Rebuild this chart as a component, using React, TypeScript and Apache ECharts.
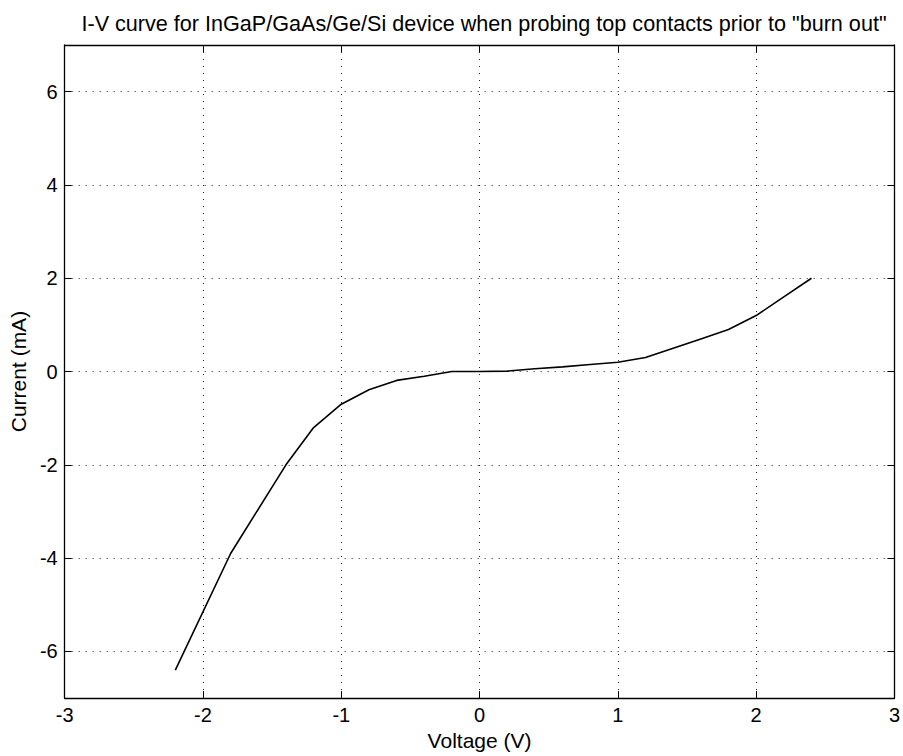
import React, { useEffect, useRef } from "react";
import * as echarts from "echarts";

const titleText = 'I-V curve for InGaP/GaAs/Ge/Si device when probing top contacts prior to "burn out"';
const xAxisName = "Voltage (V)";
const yAxisName = "Current (mA)";
const xTicks = [-3, -2, -1, 0, 1, 2, 3];
const yTicks = [-6, -4, -2, 0, 2, 4, 6];
const voltage = [-2.2, -1.8, -1.4, -1.2, -1.0, -0.8, -0.6, -0.4, -0.2, 0, 0.2, 0.4, 0.6, 0.8, 1.0, 1.2, 1.4, 1.6, 1.8, 2.0, 2.2, 2.4];
const current = [-6.4, -3.9, -2.0, -1.2, -0.7, -0.39, -0.19, -0.1, 0.0, 0.0, 0.01, 0.06, 0.1, 0.15, 0.2, 0.3, 0.5, 0.7, 0.9, 1.2, 1.6, 2.0];

const FONT = "'Liberation Sans', Arial, Helvetica, sans-serif";

export default function App() {
  const ref = useRef<HTMLDivElement>(null);
  useEffect(() => {
    if (!ref.current) return;
    const chart = echarts.init(ref.current, null, { renderer: "svg" });
    const split = { show: true, lineStyle: { color: "#222", width: 1, type: [1, 6] as any } };
    const line = { show: true, onZero: false, lineStyle: { color: "#000", width: 1.3 } };
    const xTick = { show: true, inside: true, length: 7, customValues: xTicks, lineStyle: { color: "#000", width: 1 } };
    const yTick = { show: true, inside: true, length: 7, customValues: yTicks, lineStyle: { color: "#000", width: 1 } };
    chart.setOption({
      animation: false,
      backgroundColor: "#fff",
      textStyle: { fontFamily: FONT },
      title: {
        text: titleText,
        left: 479,
        textAlign: "center",
        top: 7,
        textStyle: { fontFamily: FONT, fontSize: 21.6, fontWeight: "normal", color: "#000" },
      },
      grid: { left: 62, right: 7, top: 45, bottom: 56, containLabel: false },
      xAxis: [
        {
          type: "value", min: -3, max: 3, interval: 1, position: "bottom",
          name: xAxisName, nameLocation: "middle", nameGap: 29,
          nameTextStyle: { fontFamily: FONT, fontSize: 21, color: "#000" },
          axisLine: line, axisTick: xTick, splitLine: split,
          axisLabel: { fontFamily: FONT, fontSize: 20, color: "#000", margin: 7, customValues: xTicks },
        },
        {
          type: "value", min: -3, max: 3, interval: 1, position: "top",
          axisLine: line, axisTick: xTick, splitLine: { show: false },
          axisLabel: { show: false },
        },
      ],
      yAxis: [
        {
          type: "value", min: -7, max: 7, interval: 1, position: "left",
          name: yAxisName, nameLocation: "middle", nameGap: 29,
          nameTextStyle: { fontFamily: FONT, fontSize: 21, color: "#000" },
          axisLine: line, axisTick: yTick, splitLine: split,
          axisLabel: { fontFamily: FONT, fontSize: 20, color: "#000", margin: 7, customValues: yTicks },
        },
        {
          type: "value", min: -7, max: 7, interval: 1, position: "right",
          axisLine: line, axisTick: yTick, splitLine: { show: false },
          axisLabel: { show: false },
        },
      ],
      series: [
        {
          type: "line",
          data: voltage.map((v, i) => [v, current[i]]),
          showSymbol: false,
          lineStyle: { color: "#000", width: 1.6 },
          xAxisIndex: 0,
          yAxisIndex: 0,
        },
      ],
    });
    return () => chart.dispose();
  }, []);
  return <div ref={ref} style={{ width: 903, height: 756, position: "absolute", left: 0, top: 0 }} />;
}
